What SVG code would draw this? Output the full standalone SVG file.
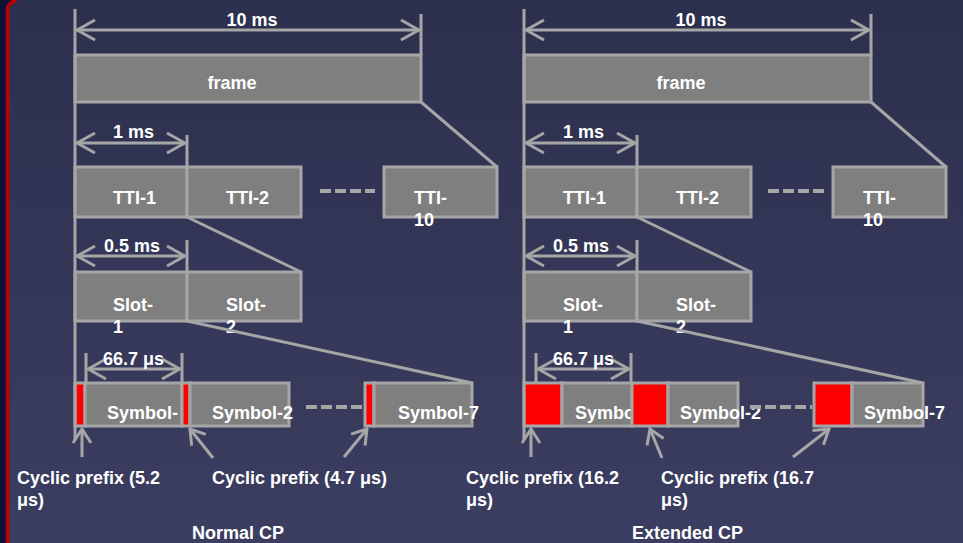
<svg xmlns="http://www.w3.org/2000/svg" width="963" height="543" viewBox="0 0 963 543">
<defs>
<linearGradient id="bg" x1="0" y1="0" x2="0" y2="1">
<stop offset="0" stop-color="#2d2f4e"/>
<stop offset="1" stop-color="#3b3e60"/>
</linearGradient>
<marker id="chev" markerUnits="userSpaceOnUse" viewBox="-20 -12 22 24" refX="0" refY="0" markerWidth="22" markerHeight="24" orient="auto-start-reverse">
<path d="M-18,-10 L0,0 L-18,10" fill="none" stroke="#a6a6a6" stroke-width="3"/>
</marker>
<marker id="chev2" markerUnits="userSpaceOnUse" viewBox="-16 -11 18 22" refX="0" refY="0" markerWidth="18" markerHeight="22" orient="auto">
<path d="M-14,-9 L0,0 L-14,9" fill="none" stroke="#a6a6a6" stroke-width="3"/>
</marker>
<style>
.box{fill:#7f7f7f;stroke:#a6a6a6;stroke-width:3}
.cp{fill:#ff0000;stroke:#a6a6a6;stroke-width:3}
.ln{fill:none;stroke:#a6a6a6;stroke-width:3}
.dash{fill:none;stroke:#a6a6a6;stroke-width:4;stroke-dasharray:11 4}
.dim{marker-start:url(#chev);marker-end:url(#chev)}
.up{marker-end:url(#chev2)}
.t{font-family:"Liberation Sans",Arial,Helvetica,sans-serif;font-weight:bold;font-size:18px;fill:#ffffff}
.m{text-anchor:middle}
</style>
</defs>
<rect x="0" y="0" width="963" height="543" fill="url(#bg)"/>
<path d="M0,0 H17 A10 10 0 0 0 6 10 V543 H0 Z" fill="#0e1136"/>
<path d="M7.5,543 V10 A9 9 0 0 1 16.5,1" fill="none" stroke="#c00000" stroke-width="3.5"/>

<!-- LEFT PANEL: Normal CP -->
<g id="n-frame"><rect class="box" x="75" y="55" width="346" height="47"/><text class="t m" x="232" y="89">frame</text></g>
<g id="n-tti1"><rect class="box" x="75" y="167" width="112" height="50"/><text class="t" x="113" y="204">TTI-1</text></g>
<g id="n-tti2"><rect class="box" x="187" y="167" width="114" height="50"/><text class="t" x="226" y="204">TTI-2</text></g>
<g id="n-tti10"><rect class="box" x="384" y="167" width="113" height="50"/><text class="t" x="414" y="204">TTI-</text><text class="t" x="414" y="226">10</text></g>
<g id="n-slot1"><rect class="box" x="75" y="272" width="112" height="49"/><text class="t" x="113" y="311">Slot-</text><text class="t" x="113" y="333">1</text></g>
<g id="n-slot2"><rect class="box" x="187" y="272" width="114" height="49"/><text class="t" x="226" y="311">Slot-</text><text class="t" x="226" y="333">2</text></g>
<g id="n-cp1"><rect class="cp" x="75" y="383" width="10" height="43"/></g>
<g id="n-sym1"><rect class="box" x="85" y="383" width="97" height="43"/><text class="t" x="107" y="419">Symbol-</text></g>
<g id="n-cp2"><rect class="cp" x="182" y="383" width="8" height="43"/></g>
<g id="n-sym2"><rect class="box" x="190" y="383" width="99" height="43"/><text class="t" x="212" y="419">Symbol-2</text></g>
<g id="n-cp7"><rect class="cp" x="365" y="383" width="9" height="43"/></g>
<g id="n-sym7"><rect class="box" x="374" y="383" width="98" height="43"/><text class="t" x="398" y="419">Symbol-7</text></g>
<g id="n-lbl-cp1"><text class="t" x="17" y="484">Cyclic prefix (5.2</text><text class="t" x="17" y="506">μs)</text></g>
<g id="n-lbl-cp2"><text class="t" x="212" y="484">Cyclic prefix (4.7 μs)</text></g>
<g id="n-title-l"><text class="t" x="192" y="539">Normal CP</text></g>

<!-- RIGHT PANEL: Extended CP -->
<g id="e-frame"><rect class="box" x="524" y="55" width="347" height="47"/><text class="t m" x="681" y="89">frame</text></g>
<g id="e-tti1"><rect class="box" x="524" y="167" width="113" height="50"/><text class="t" x="563" y="204">TTI-1</text></g>
<g id="e-tti2"><rect class="box" x="637" y="167" width="114" height="50"/><text class="t" x="676" y="204">TTI-2</text></g>
<g id="e-tti10"><rect class="box" x="833" y="167" width="113" height="50"/><text class="t" x="863" y="204">TTI-</text><text class="t" x="863" y="226">10</text></g>
<g id="e-slot1"><rect class="box" x="524" y="272" width="113" height="49"/><text class="t" x="563" y="311">Slot-</text><text class="t" x="563" y="333">1</text></g>
<g id="e-slot2"><rect class="box" x="637" y="272" width="114" height="49"/><text class="t" x="676" y="311">Slot-</text><text class="t" x="676" y="333">2</text></g>
<g id="e-cp1"><rect class="cp" x="524" y="383" width="38" height="43"/></g>
<g id="e-sym1"><rect class="box" x="562" y="383" width="70" height="43"/><text class="t" x="575" y="419">Symbol-</text></g>
<g id="e-cp2"><rect class="cp" x="632" y="383" width="36" height="43"/></g>
<g id="e-sym2"><rect class="box" x="668" y="383" width="70" height="43"/><text class="t" x="680" y="419">Symbol-2</text></g>
<g id="e-cp7"><rect class="cp" x="814" y="383" width="38" height="43"/></g>
<g id="e-sym7"><rect class="box" x="852" y="383" width="71" height="43"/><text class="t" x="864" y="419">Symbol-7</text></g>
<g id="e-lbl-cp1"><text class="t" x="466" y="484">Cyclic prefix (16.2</text><text class="t" x="466" y="506">μs)</text></g>
<g id="e-lbl-cp2"><text class="t" x="661" y="484">Cyclic prefix (16.7</text><text class="t" x="661" y="506">μs)</text></g>
<g id="e-title"><text class="t" x="632" y="539">Extended CP</text></g>

<g id="connectors">
<!-- left -->
<line class="ln" x1="75" y1="9" x2="75" y2="440"/>
<line class="ln" x1="421" y1="14" x2="421" y2="55"/>
<line class="ln dim" x1="77" y1="30" x2="419" y2="30"/>
<line class="ln" x1="187" y1="135" x2="187" y2="167"/>
<line class="ln dim" x1="77" y1="143" x2="185" y2="143"/>
<line class="ln" x1="187" y1="240" x2="187" y2="272"/>
<line class="ln dim" x1="77" y1="256" x2="185" y2="256"/>
<line class="ln" x1="86" y1="353" x2="86" y2="383"/>
<line class="ln" x1="182" y1="353" x2="182" y2="383"/>
<line class="ln dim" x1="88" y1="369" x2="180" y2="369"/>
<line class="ln" x1="421" y1="102" x2="497" y2="167"/>
<line class="ln" x1="187" y1="217" x2="301" y2="272"/>
<line class="ln" x1="187" y1="321" x2="472" y2="383"/>
<line class="dash" x1="320" y1="191" x2="375" y2="191"/>
<line class="dash" x1="306" y1="407" x2="362" y2="407"/>
<line class="ln up" x1="82" y1="457" x2="82" y2="429"/>
<line class="ln up" x1="213" y1="458" x2="190" y2="429"/>
<line class="ln up" x1="344" y1="457" x2="367" y2="429"/>
<text class="t m" x="252" y="26">10 ms</text>
<text class="t" x="113" y="138">1 ms</text>
<text class="t" x="104" y="252">0.5 ms</text>
<text class="t" x="103" y="365">66.7 μs</text>
<!-- right -->
<line class="ln" x1="524" y1="9" x2="524" y2="440"/>
<line class="ln" x1="871" y1="14" x2="871" y2="55"/>
<line class="ln dim" x1="526" y1="30" x2="869" y2="30"/>
<line class="ln" x1="637" y1="135" x2="637" y2="167"/>
<line class="ln dim" x1="526" y1="143" x2="635" y2="143"/>
<line class="ln" x1="637" y1="240" x2="637" y2="272"/>
<line class="ln dim" x1="526" y1="256" x2="635" y2="256"/>
<line class="ln" x1="536" y1="353" x2="536" y2="383"/>
<line class="ln" x1="631" y1="353" x2="631" y2="383"/>
<line class="ln dim" x1="538" y1="369" x2="629" y2="369"/>
<line class="ln" x1="871" y1="102" x2="946" y2="167"/>
<line class="ln" x1="637" y1="217" x2="751" y2="272"/>
<line class="ln" x1="637" y1="321" x2="923" y2="383"/>
<line class="dash" x1="768" y1="191" x2="824" y2="191"/>
<line class="dash" x1="750" y1="407" x2="812" y2="407"/>
<line class="ln up" x1="531" y1="457" x2="531" y2="429"/>
<line class="ln up" x1="662" y1="458" x2="650" y2="429"/>
<line class="ln up" x1="793" y1="457" x2="829" y2="429"/>
<text class="t m" x="701" y="26">10 ms</text>
<text class="t" x="563" y="138">1 ms</text>
<text class="t" x="553" y="252">0.5 ms</text>
<text class="t" x="553" y="365">66.7 μs</text>
</g>
</svg>
